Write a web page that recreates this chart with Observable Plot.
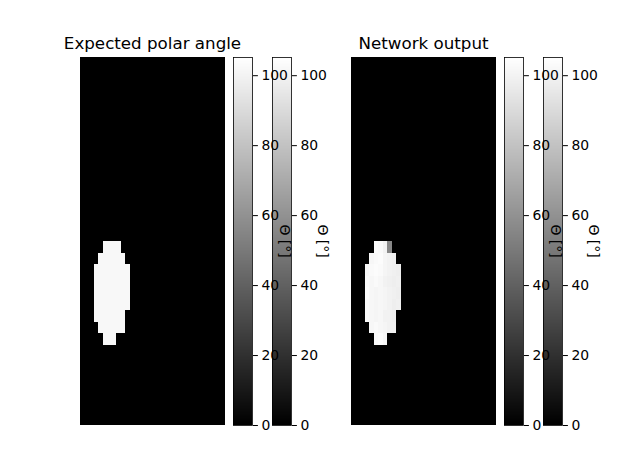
<!DOCTYPE html>
<html>
<head>
<meta charset="utf-8">
<script src="https://cdn.jsdelivr.net/npm/d3@7"></script>
<script src="https://cdn.jsdelivr.net/npm/@observablehq/plot@0.6"></script>
<style>
  body { margin: 0; background: white; }
  #chart { position: relative; width: 640px; height: 476px; font-family: "DejaVu Sans", sans-serif; }
  .box { position: absolute; }
  .title { position: absolute; font-size: 16.7px; line-height: 20px; text-align: center; white-space: nowrap; transform: translateX(-50%); }
  .cblabel { position: absolute; font-size: 13.9px; white-space: nowrap; transform: translate(-50%, -50%) rotate(90deg); z-index: 5; }
</style>
</head>
<body>
<div id="chart"></div>
<script>
// grid size and colour range
const nRows = 32, nCols = 32
const vmax = 105.2
const cbTicks = [0, 20, 40, 60, 80, 100]

// expected polar angle: one flat value over the blob
const expectedValue = 102.3
const blobRows = [16, 17, 18, 19, 20, 21, 22, 23, 24]
const expectedStart = [5, 4, 3, 3, 3, 3, 3, 4, 5]
const expectedEnd = [8, 9, 10, 10, 10, 10, 9, 9, 7]

// network output, per row starting at networkStart
const networkStart = [5, 4, 3, 3, 3, 3, 3, 4, 5]
const networkValues = [
    [104, 103, 100, 56],
    [102, 103, 104, 101, 100, 99],
    [102, 103, 104, 103, 101, 100, 99, 98],
    [103, 102, 103, 102, 100, 99, 98, 99],
    [104, 102, 101, 102, 101, 100, 99, 98],
    [103, 102, 101, 102, 101, 100, 98, 99],
    [103, 102, 101, 102, 100, 100, 99],
    [102, 103, 102, 101, 100, 100],
    [103, 104, 102]
]

function makeGrid(getValue) {
    let cells = []
    for (let r = 0; r < nRows; r++)
        for (let c = 0; c < nCols; c++)
            cells.push({ r, c, v: getValue(r, c) })
    return cells
}

const expectedGrid = makeGrid((r, c) => {
    let i = blobRows.indexOf(r)
    if (i < 0) return 0
    return (c >= expectedStart[i] && c <= expectedEnd[i]) ? expectedValue : 0
})
const networkGrid = makeGrid((r, c) => {
    let i = blobRows.indexOf(r)
    if (i < 0) return 0
    let v = networkValues[i][c - networkStart[i]]
    return v === undefined ? 0 : v
})

const color = { type: 'linear', domain: [0, vmax], range: ['black', 'white'] }
const font = { background: 'transparent', fontFamily: '"DejaVu Sans", sans-serif', fontSize: '13.9px', color: 'black', overflow: 'visible' }

function heatmap(cells) {
    return Plot.plot({
        width: 145, height: 368,
        margin: 0,
        x: { domain: [0, nCols], axis: null },
        y: { domain: [nRows, 0], axis: null },
        color: color,
        marks: [
            Plot.rect(cells, {
                x1: 'c', x2: d => d.c + 1,
                y1: 'r', y2: d => d.r + 1,
                fill: 'v', shapeRendering: 'crispEdges'
            })
        ],
        style: font
    })
}

// colour bar made of thin slices
const step = vmax / 256
const slices = d3.range(0, vmax, step)

function colorbar() {
    return Plot.plot({
        width: 19 + 45, height: 368 + 20,
        marginLeft: 0, marginRight: 45, marginTop: 10, marginBottom: 10,
        x: { domain: [0, 1], axis: null },
        y: { domain: [0, vmax], ticks: cbTicks, axis: 'right', tickSize: 4.9, tickPadding: 4, label: null },
        color: color,
        marks: [
            Plot.rect(slices, { x1: 0, x2: 1, y1: d => d, y2: d => Math.min(d + step, vmax), fill: d => d + step / 2, shapeRendering: 'crispEdges' }),
            Plot.frame({ stroke: 'black', strokeWidth: 0.8 })
        ],
        style: font
    })
}

const chart = d3.select('#chart')

function place(node, left, top) {
    chart.append('div').attr('class', 'box')
        .style('left', left + 'px').style('top', top + 'px')
        .append(() => node)
}

const panels = [
    { title: 'Expected polar angle', cells: expectedGrid, left: 80 },
    { title: 'Network output', cells: networkGrid, left: 351 }
]

panels.forEach(p => {
    place(heatmap(p.cells), p.left, 57)
    // outer bar first so the inner bar's ticks sit on top of it
    place(colorbar(), p.left + 192, 47)
    place(colorbar(), p.left + 153, 47)
    chart.append('div').attr('class', 'title')
        .style('left', (p.left + 72.5) + 'px').style('top', '33px')
        .text(p.title)
    chart.append('div').attr('class', 'cblabel')
        .style('left', (p.left + 205) + 'px').style('top', '241px')
        .text('Θ [°]')
    chart.append('div').attr('class', 'cblabel')
        .style('left', (p.left + 243) + 'px').style('top', '241px')
        .text('Θ [°]')
})
</script>
</body>
</html>
